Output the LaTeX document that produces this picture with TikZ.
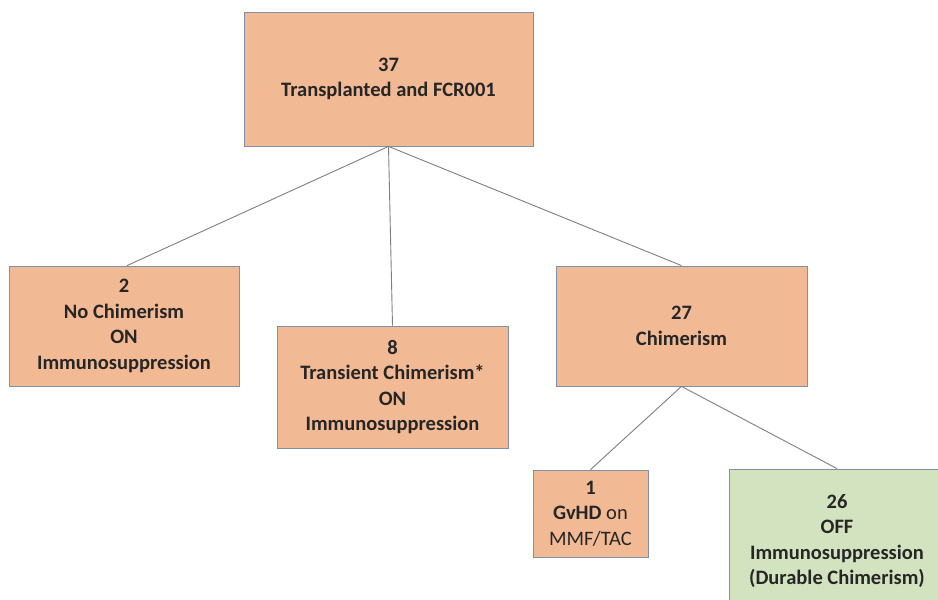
\documentclass[tikz,border=0pt]{standalone}
\usepackage{fontspec}
\setmainfont{Carlito}
\definecolor{boxorange}{HTML}{F1B994}
\definecolor{boxgreen}{HTML}{D3E3BF}
\definecolor{boxedge}{HTML}{8090A8}
\definecolor{linkgrey}{HTML}{7F7F7F}
\definecolor{txt}{HTML}{262626}
\begin{document}
\begin{tikzpicture}[x=1pt,y=-1pt,
  box/.style={draw=boxedge, line width=0.8pt, fill=boxorange, align=center, inner sep=0pt,
    font=\fontsize{20.5}{25.5}\selectfont\bfseries, text=txt},
  gbox/.style={box, fill=boxgreen},
  link/.style={draw=linkgrey, line width=0.9pt}]
\useasboundingbox (0,0) rectangle (938,600);
\clip (0,0) rectangle (938,600);
\node[box, minimum width=289pt, minimum height=134pt] (top) at (388.5,79) {37\\Transplanted and FCR001};
\node[box, minimum width=230pt, minimum height=120pt] (left) at (124,326) {2\\No Chimerism\\ON\\Immunosuppression};
\node[box, minimum width=231pt, minimum height=122pt] (mid) at (392.5,387) {8\\Transient Chimerism*\\ON\\Immunosuppression};
\node[box, minimum width=251pt, minimum height=120pt] (right) at (681.5,326) {27\\Chimerism};
\node[box, minimum width=115pt, minimum height=87pt] (gvhd) at (590.5,513.5) {1\\GvHD \mdseries on\\\mdseries MMF/TAC};
\node[gbox, minimum width=216pt, minimum height=144pt] (green) at (837,541) {26\\OFF\\Immunosuppression\\(Durable Chimerism)};
\draw[link] (top.south) -- ([xshift=3pt]left.north);
\draw[link] (top.south) -- (mid.north);
\draw[link] (top.south) -- (right.north);
\draw[link] (right.south) -- (gvhd.north);
\draw[link] (right.south) -- (green.north);
\end{tikzpicture}
\end{document}
